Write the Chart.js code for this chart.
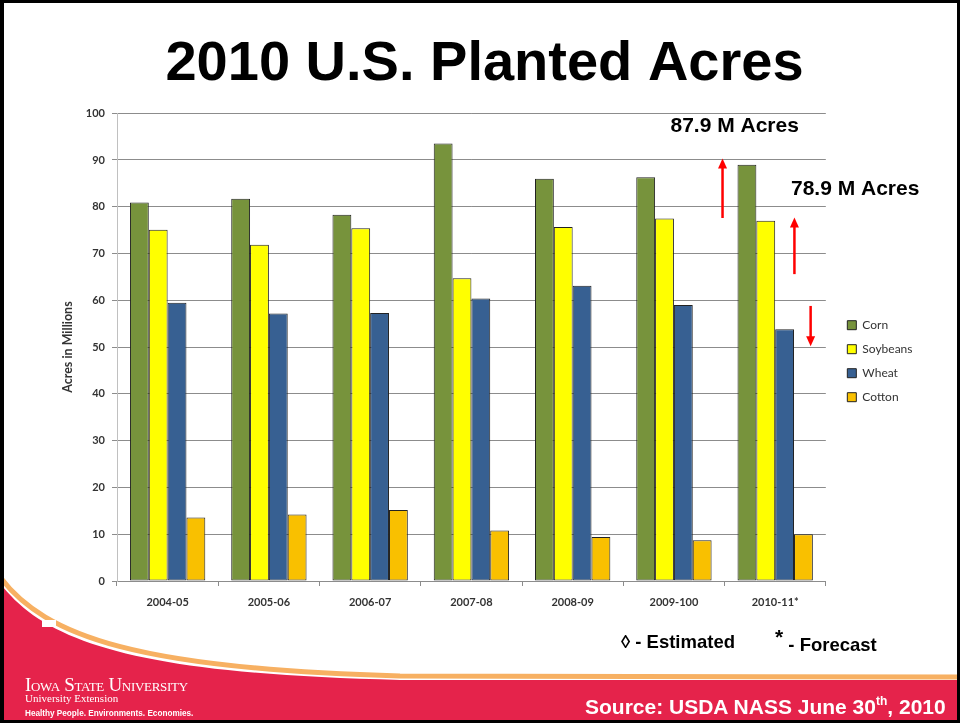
<!DOCTYPE html>
<html>
<head>
<meta charset="utf-8">
<script src="https://cdn.jsdelivr.net/npm/chart.js@4.4.0/dist/chart.umd.min.js"></script>
<style>
html, body { margin: 0; padding: 0; background: #fff; }
#slide { position: relative; width: 960px; height: 723px; overflow: hidden; background: #fff; }
#bg { position: absolute; left: 0; top: 0; }
#wrap { position: absolute; left: 0; top: 0; width: 960px; height: 723px; }
.note { position: absolute; font-family: "Liberation Sans", Arial, sans-serif; font-weight: bold; white-space: nowrap; line-height: 1; }
#frame { position: absolute; left: 0; top: 0; width: 960px; height: 723px; box-sizing: border-box; border: 3px solid #000; border-left-width: 4px; pointer-events: none; }
</style>
</head>
<body>
<div id="slide">
  <svg id="bg" width="960" height="723">
    <path d="M0 583 C 45 643, 140 674, 400 680 L 960 680 L 960 723 L 0 723 Z" fill="#e5234b"/>
    <path d="M0 577 C 45 637, 140 669, 400 676 L 960 677" fill="none" stroke="#f7b062" stroke-width="5"/>
    <rect x="42" y="620" width="14" height="7" fill="#fff"/>
  </svg>
  <div id="wrap"><canvas id="acres-chart"></canvas></div>

  <div class="note" style="left:621px; top:633px; font-size:18.5px; color:#000;">&#9674; - Estimated</div>
  <div class="note" style="left:775px; top:633px; font-size:18.5px; color:#000;"><span style="position:relative; top:-7px; font-size:21px;">*</span> - Forecast</div>

  <div style="position:absolute; left:25px; top:675px; color:#fff; font-family:'Liberation Serif', serif; font-size:19px; font-variant:small-caps; line-height:1; letter-spacing:-0.3px;">Iowa State University</div>
  <div style="position:absolute; left:25px; top:693px; color:#fff; font-family:'Liberation Serif', serif; font-size:11px; line-height:1;">University Extension</div>
  <div style="position:absolute; left:25px; top:710px; color:#fff; font-family:'Liberation Sans', Arial, sans-serif; font-weight:bold; font-size:8.2px; line-height:1;">Healthy People. Environments. Economies.</div>

  <div class="note" style="left:585px; top:696px; font-size:21px; color:#fff;">Source: USDA NASS June 30<sup style="font-size:12px; vertical-align:9px; line-height:0;">th</sup>, 2010</div>

  <div id="frame"></div>
</div>

<script>
// crop years on the x axis
const seasons = ['2004-05', '2005-06', '2006-07', '2007-08', '2008-09', '2009-100', '2010-11*'];

// planted acres, millions
const corn     = [80.9, 81.7, 78.3, 93.5, 86.0, 86.3, 89.0];
const soybeans = [75.1, 71.9, 75.4, 64.7, 75.7, 77.5, 77.0];
const wheat    = [59.5, 57.2, 57.3, 60.4, 63.1, 59.0, 53.8];
const cotton   = [13.6, 14.2, 15.2, 10.8, 9.4, 8.7, 10.0];

const yTicksMax = 100;
const yTicksStep = 10;

// red arrows: category position, start value, end value
const arrows = [
    { at: 5.48, from: 77.6, to: 90.3 },
    { at: 6.19, from: 65.6, to: 77.7 },
    { at: 6.35, from: 58.8, to: 50.2 }
];
// callout texts
const callouts = [
    { text: '87.9 M Acres', at: 5.60, value: 97.2 },
    { text: '78.9 M Acres', at: 6.79, value: 83.8 }
];

// put the legend a little right of the plot and lower down, as on the slide
const legendShift = {
    id: 'legendShift',
    afterLayout(chart) {
        const lg = chart.legend;
        const h = lg.bottom - lg.top;
        const dx = chart.chartArea.right + 9.5 - lg.left;
        lg.left += dx;
        lg.right += dx;
        lg.top = chart.chartArea.top + 194;
        lg.bottom = lg.top + h;
    }
};

const annotations = {
    id: 'annotations',
    afterDatasetsDraw(chart) {
        const ctx = chart.ctx;
        const x = chart.scales.x;
        const y = chart.scales.y;
        ctx.save();
        ctx.strokeStyle = '#ff0000';
        ctx.fillStyle = '#ff0000';
        ctx.lineWidth = 2.5;
        arrows.forEach(a => {
            const px = x.getPixelForValue(a.at);
            const y0 = y.getPixelForValue(a.from);
            const y1 = y.getPixelForValue(a.to);
            const dir = y1 < y0 ? 1 : -1;
            ctx.beginPath();
            ctx.moveTo(px, y0);
            ctx.lineTo(px, y1 + dir * 8);
            ctx.stroke();
            ctx.beginPath();
            ctx.moveTo(px, y1);
            ctx.lineTo(px - 4.5, y1 + dir * 10);
            ctx.lineTo(px + 4.5, y1 + dir * 10);
            ctx.closePath();
            ctx.fill();
        });
        ctx.fillStyle = '#000';
        ctx.font = 'bold 21px "Liberation Sans", Arial, sans-serif';
        ctx.textAlign = 'center';
        ctx.textBaseline = 'middle';
        callouts.forEach(c => {
            ctx.fillText(c.text, x.getPixelForValue(c.at), y.getPixelForValue(c.value));
        });
        ctx.restore();
    }
};

Chart.defaults.font.family = 'Lato, "Noto Sans", sans-serif';
Chart.defaults.color = '#333';

const ctx = document.getElementById('acres-chart').getContext('2d');

const acresChart = new Chart(ctx, {
    type: 'bar',
    data: {
        labels: seasons,
        datasets: [
            { label: 'Corn', data: corn, backgroundColor: '#77933c' },
            { label: 'Soybeans', data: soybeans, backgroundColor: '#ffff00' },
            { label: 'Wheat', data: wheat, backgroundColor: '#376092' },
            { label: 'Cotton', data: cotton, backgroundColor: '#f9c000' }
        ]
    },
    options: {
        responsive: true,
        maintainAspectRatio: false,
        animation: false,
        datasets: {
            bar: {
                borderColor: '#222',
                borderWidth: 1,
                borderSkipped: false,
                categoryPercentage: 0.744,
                barPercentage: 1.0
            }
        },
        layout: {
            padding: { left: 56, right: 47, top: 0, bottom: 102 }
        },
        plugins: {
            title: {
                display: true,
                text: '2010 U.S. Planted Acres',
                color: '#000',
                font: { family: '"Liberation Sans", Arial, sans-serif', size: 56, weight: 'bold' },
                padding: { top: 31, bottom: 15 }
            },
            legend: {
                position: 'right',
                align: 'start',
                labels: {
                    boxWidth: 9,
                    boxHeight: 9,
                    padding: 12,
                    color: '#333',
                    font: { size: 12 }
                }
            },
            tooltip: { enabled: false }
        },
        scales: {
            x: {
                afterFit(scale) { scale.height = 40; },
                grid: {
                    offset: true,
                    drawOnChartArea: false,
                    tickLength: 5,
                    color: '#8c8c8c'
                },
                border: { color: '#8c8c8c' },
                ticks: {
                    maxRotation: 0,
                    padding: 10,
                    color: '#333',
                    font: { size: 11, weight: 'bold' }
                }
            },
            y: {
                min: 0,
                max: yTicksMax,
                afterFit(scale) { scale.width = 61; },
                grid: {
                    color: '#8c8c8c',
                    tickLength: 5
                },
                border: { color: '#c0c0c0' },
                ticks: {
                    stepSize: yTicksStep,
                    padding: 7,
                    color: '#333',
                    font: { size: 11, weight: 'bold' }
                },
                title: {
                    display: true,
                    text: 'Acres in Millions',
                    color: '#333',
                    padding: 4,
                    font: { size: 12.5, weight: 'bold' }
                }
            }
        }
    },
    plugins: [legendShift, annotations]
});
</script>
</body>
</html>
